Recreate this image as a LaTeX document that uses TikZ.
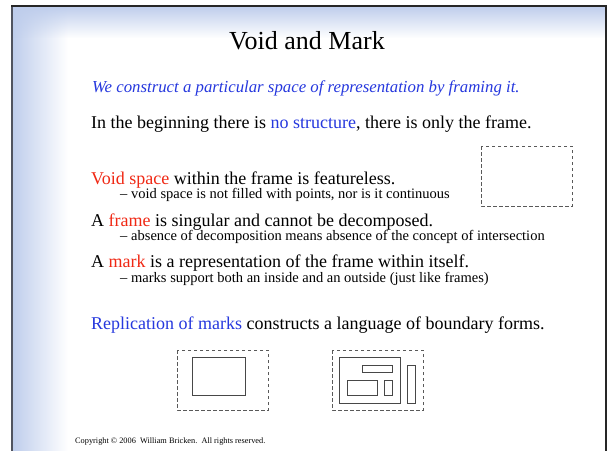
\documentclass[tikz,border=0pt]{standalone}
\usepackage{fontspec}
\setmainfont{Liberation Serif}
\usetikzlibrary{fadings}

\definecolor{slideblue}{RGB}{190,205,236}
\definecolor{textblue}{RGB}{38,56,222}
\definecolor{textred}{RGB}{240,40,20}
\definecolor{edgegray}{RGB}{80,84,96}

\tikzfading[name=fadetop, top color=transparent!0, bottom color=transparent!100]

\tikzset{
  titletext/.style={font=\fontsize{26}{30}\selectfont, anchor=base, inner sep=0},
  leadtext/.style={font=\fontsize{16.8}{19}\selectfont, anchor=base west, inner sep=0},
  bodytext/.style={font=\fontsize{18}{21}\selectfont, anchor=base west, inner sep=0},
  subtext/.style={font=\fontsize{14.5}{16}\selectfont, anchor=base west, inner sep=0},
  smalltext/.style={font=\fontsize{8.3}{10}\selectfont, anchor=base west, inner sep=0},
  dashbox/.style={draw=black!65, dash pattern=on 3.5pt off 2.5pt, line width=0.8pt},
  solidbox/.style={draw=black!72, line width=0.9pt},
}

\newcommand{\bl}[1]{\textcolor{textblue}{#1}}
\newcommand{\rd}[1]{\textcolor{textred}{#1}}

\begin{document}
\begin{tikzpicture}[x=1pt, y=-1pt]
\useasboundingbox (0,0) rectangle (608,450);
\fill[white] (0,0) rectangle (608,450);

% slide background: soft blue edges
\shade[left color=slideblue, right color=white] (12,6) rectangle (68,460);
\fill[slideblue, path fading=fadetop] (12,6) rectangle (606,38);

% slide frame
\draw[edgegray, line width=2pt] (12,460) -- (12,5.5);
\draw[black!85, line width=1.5pt] (11,5.8) -- (606,5.8) -- (606,460);

% title and lines of text
\node[titletext] (title) at (307,49) {Void and Mark};
\node[leadtext] (intro) at (92,92) {\bl{\itshape We construct a particular space of representation by framing it.}};
\node[bodytext] (begin) at (91,128) {In the beginning there is \bl{no structure}, there is only the frame.};

\node[bodytext] (void) at (91,184) {\rd{Void space} within the frame is featureless.};
\node[subtext] (voiddash) at (120,198) {–};
\node[subtext] (voidsub) at (131,198) {void space is not filled with points, nor is it continuous};

\node[bodytext] (frame) at (91,226) {A \rd{frame} is singular and cannot be decomposed.};
\node[subtext] (framedash) at (120,240) {–};
\node[subtext] (framesub) at (131,240) {absence of decomposition means absence of the concept of intersection};

\node[bodytext] (mark) at (91,267) {A \rd{mark} is a representation of the frame within itself.};
\node[subtext] (markdash) at (120,282) {–};
\node[subtext] (marksub) at (131,282) {marks support both an inside and an outside (just like frames)};

\node[bodytext] (repl) at (91,329) {\bl{Replication of marks} constructs a language of boundary forms.};

\node[smalltext] (copy) at (75,443) {Copyright © 2006\ \ William Bricken.\ \ All rights reserved.};

% empty frame
\draw[dashbox] (481,146) rectangle (572,206);

% frame holding a single mark
\draw[dashbox] (177,350) rectangle (268,410);
\draw[solidbox] (192,357.5) rectangle (245.5,395.5);

% frame holding several marks
\draw[dashbox] (332,350) rectangle (423,410);
\draw[solidbox] (339.5,357.5) rectangle (400.5,403.5);
\draw[solidbox] (362.5,365) rectangle (392.5,372.5);
\draw[solidbox] (347,380.5) rectangle (377.5,395.5);
\draw[solidbox] (384.5,380.5) rectangle (392.5,395.5);
\draw[solidbox] (407.5,365) rectangle (415.5,403);
\end{tikzpicture}
\end{document}
